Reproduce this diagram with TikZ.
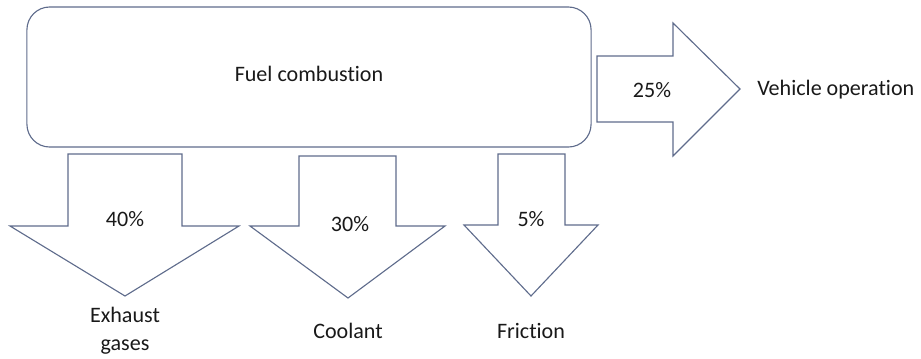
\documentclass[tikz,border=0pt]{standalone}
\usepackage{fontspec}
\setmainfont[Ligatures=NoCommon]{Carlito}
\usepackage{tikz}
\usetikzlibrary{positioning,calc}
\definecolor{edge}{RGB}{95,108,140}
\definecolor{ink}{RGB}{25,25,25}
\tikzset{
  box/.style={draw=edge, line width=0.8pt, rounded corners=0.57cm,
    minimum width=14.1cm, minimum height=3.5cm, text=ink},
  blk/.style={draw=edge, line width=0.8pt, line join=miter},
  lbl/.style={text=ink, inner sep=0pt, align=center}
}

\begin{document}
\begin{tikzpicture}[x=0.025cm,y=-0.025cm,font=\fontsize{15.7}{19.9}\selectfont]
    \useasboundingbox (0,0) rectangle (921,358);

    % Fuel combustion box
    \node[box] (fuel) at (309,77) {};
    \node[lbl] (fueltxt) at (309,74) {Fuel combustion};

    % Right arrow: vehicle operation
    \draw[blk] (597,56) -- (673,56) -- (673,23) -- (740,89)
        -- (673,156) -- (673,122) -- (597,122) -- cycle;
    \node[lbl] (p25) at (652,90) {25\%};
    \node[lbl, anchor=west] (veh) at (757,90) {Vehicle operation};

    % Down arrow: exhaust gases
    \draw[blk] (68,154) -- (182,154) -- (182,226) -- (239,226)
        -- (125,296) -- (10,226) -- (68,226) -- cycle;
    \node[lbl] (p40) at (125,219) {40\%};
    \node[lbl] (exh) at (125,331) {Exhaust\\gases};

    % Down arrow: coolant
    \draw[blk] (299,156) -- (396,156) -- (396,226) -- (445,226)
        -- (348,298) -- (250,226) -- (299,226) -- cycle;
    \node[lbl] (p30) at (350,224) {30\%};
    \node[lbl] (cool) at (348,331) {Coolant};

    % Down arrow: friction
    \draw[blk] (498,154) -- (565,154) -- (565,225) -- (598,225)
        -- (531,296) -- (464,225) -- (498,225) -- cycle;
    \node[lbl] (p5) at (531,219) {5\%};
    \node[lbl] (fric) at (531,331) {Friction};
\end{tikzpicture}
\end{document}
